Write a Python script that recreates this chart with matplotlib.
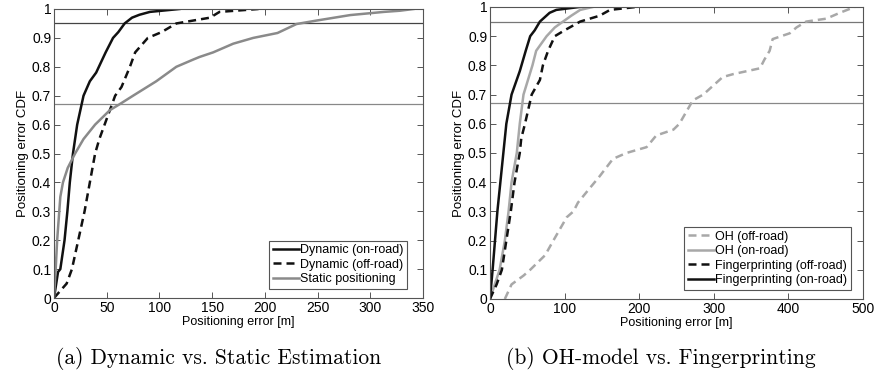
import matplotlib
matplotlib.use("Agg")
import matplotlib.pyplot as plt
import numpy as np

# (a) dynamic vs static, error [m] and CDF value
dyn_on_x = [0, 3.8, 6, 10, 12.7, 15, 18, 22, 28, 34, 40, 49, 56, 61, 67, 74, 81, 91, 105, 119]
dyn_on_y = [0, 0.09, 0.1, 0.2, 0.3, 0.4, 0.5, 0.6, 0.7, 0.75, 0.78, 0.85, 0.9, 0.92, 0.95, 0.97, 0.98, 0.99, 0.995, 1.0]

dyn_off_x = [0, 12, 17, 23, 29, 34, 39, 43, 48, 53, 58, 64, 72, 77, 89, 102, 116, 148, 157, 194]
dyn_off_y = [0, 0.05, 0.1, 0.2, 0.3, 0.4, 0.5, 0.55, 0.6, 0.65, 0.7, 0.73, 0.8, 0.85, 0.9, 0.92, 0.95, 0.97, 0.99, 1.0]

static_x = [0, 1.6, 3, 5, 6, 8.5, 13, 20, 28, 39, 53, 62, 75, 97, 116, 132, 138, 151, 170, 189,
            212, 230, 249, 281, 313, 328, 341]
static_y = [0, 0.1, 0.2, 0.3, 0.35, 0.4, 0.45, 0.5, 0.55, 0.6, 0.65, 0.67, 0.7, 0.75, 0.8, 0.825,
            0.834, 0.85, 0.88, 0.9, 0.917, 0.948, 0.96, 0.979, 0.99, 0.994, 1.0]

# (b) OH-model vs fingerprinting
oh_off_x = [20, 29, 45, 54, 74, 85, 103, 112, 118, 134, 147, 165, 183, 210, 223, 246, 254, 272,
            286, 299, 312, 326, 362, 368, 375, 379, 402, 411, 424, 451, 469, 489]
oh_off_y = [0, 0.05, 0.08, 0.1, 0.15, 0.2, 0.28, 0.3, 0.33, 0.38, 0.42, 0.48, 0.5, 0.52, 0.56,
            0.58, 0.6, 0.68, 0.7, 0.73, 0.76, 0.77, 0.79, 0.82, 0.85, 0.89, 0.91, 0.93, 0.95,
            0.96, 0.98, 1.0]

oh_on_x = [0, 13, 20, 25, 29, 36, 40, 45, 51, 57, 62, 76, 87, 98, 109, 121, 138]
oh_on_y = [0, 0.1, 0.2, 0.3, 0.4, 0.5, 0.6, 0.7, 0.75, 0.8, 0.85, 0.9, 0.93, 0.95, 0.97, 0.99, 1.0]

fp_off_x = [0, 9, 16, 22, 28, 33, 40, 42, 47, 56, 67, 71, 78, 87, 100, 121, 147, 161, 196]
fp_off_y = [0, 0.05, 0.1, 0.2, 0.3, 0.4, 0.5, 0.55, 0.6, 0.7, 0.75, 0.8, 0.85, 0.9, 0.92, 0.95,
            0.97, 0.99, 1.0]

fp_on_x = [0, 3.6, 10, 18, 22, 29, 40, 48, 54, 60, 67, 80, 89, 120]
fp_on_y = [0, 0.1, 0.3, 0.5, 0.6, 0.7, 0.78, 0.85, 0.9, 0.92, 0.95, 0.98, 0.99, 1.0]

plt.rcParams['font.family'] = ['Liberation Sans', 'DejaVu Sans']

fig = plt.figure(figsize=(8.78, 3.75), dpi=100)
ax1 = fig.add_axes([0.0615, 0.2053, 0.4203, 0.7707])
ax2 = fig.add_axes([0.558, 0.2027, 0.4248, 0.7787])

dark = '#111111'
gray = '#8a8a8a'
light = '#a8a8a8'
dash = (0, (3.2, 2.0))

ax1.axhline(0.95, color='#444444', lw=0.9)
ax1.axhline(0.67, color='#888888', lw=0.9)
ax1.plot(dyn_on_x, dyn_on_y, color=dark, lw=1.8, label='Dynamic (on-road)')
ax1.plot(dyn_off_x, dyn_off_y, color=dark, lw=1.8, linestyle=dash, label='Dynamic (off-road)')
ax1.plot(static_x, static_y, color=gray, lw=1.8, label='Static positioning')
ax1.set_xlim(0, 350)
ax1.set_xticks(np.arange(0, 351, 50))

ax2.axhline(0.95, color='#777777', lw=0.9)
ax2.axhline(0.67, color='#888888', lw=0.9)
ax2.plot(oh_off_x, oh_off_y, color=light, lw=1.8, linestyle=dash, label='OH (off-road)')
ax2.plot(oh_on_x, oh_on_y, color=light, lw=1.8, label='OH (on-road)')
ax2.plot(fp_off_x, fp_off_y, color=dark, lw=1.8, linestyle=dash, label='Fingerprinting (off-road)')
ax2.plot(fp_on_x, fp_on_y, color=dark, lw=1.8, label='Fingerprinting (on-road)')
ax2.set_xlim(0, 500)
ax2.set_xticks(np.arange(0, 501, 100))

yticks = np.round(np.arange(0, 1.01, 0.1), 1)
ylabels = ['0'] + ['%.1f' % v for v in yticks[1:-1]] + ['1']
for ax, anchor in ((ax1, (0.957, 0.031)), (ax2, (0.968, 0.031))):
    ax.set_ylim(0, 1)
    ax.set_yticks(yticks)
    ax.set_yticklabels(ylabels)
    ax.tick_params(direction='in', top=True, right=True, length=4, width=0.7,
                   labelsize=10, color='#555555', pad=2)
    for s in ax.spines.values():
        s.set_color('#555555')
        s.set_linewidth(0.8)
    ax.set_xlabel('Positioning error [m]', fontsize=9, labelpad=1)
    ax.set_ylabel('Positioning error CDF', fontsize=9.5, labelpad=2)
    leg = ax.legend(loc='lower right', bbox_to_anchor=anchor, borderaxespad=0,
                    fontsize=9, handlelength=2.1, handletextpad=0.1,
                    borderpad=0.3, labelspacing=0.2, fancybox=False, framealpha=1)
    leg.get_frame().set_edgecolor('#555555')
    leg.get_frame().set_linewidth(0.8)

fig.text(0.249, 0.043, '(a) Dynamic vs. Static Estimation', family='cmr10',
         fontsize=15.5, ha='center', va='center')
fig.text(0.753, 0.043, '(b) OH-model vs. Fingerprinting', family='cmr10',
         fontsize=15.5, ha='center', va='center')

fig.savefig('out.png', dpi=100)
